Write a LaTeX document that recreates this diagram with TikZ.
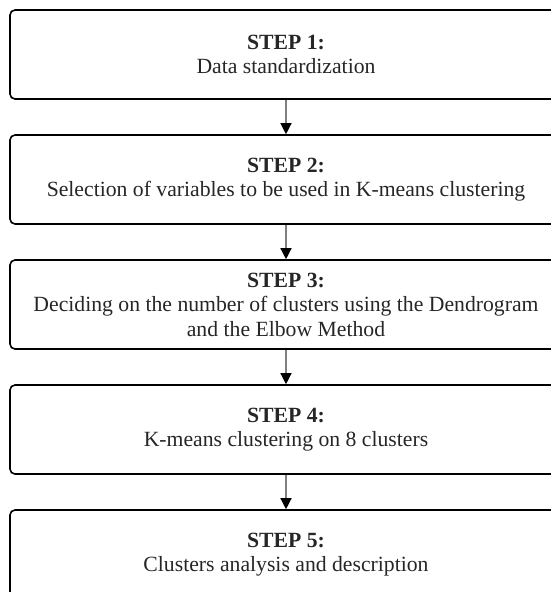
\documentclass[tikz,border=0pt]{standalone}
\usepackage{fontspec}
\setmainfont{Liberation Serif}
\usetikzlibrary{positioning,arrows.meta}

\tikzset{
  stepbox/.style={draw, line width=1.6pt, rounded corners=5pt,
    minimum width=552pt, minimum height=89pt, align=center,
    font=\fontsize{21.7}{24.5}\selectfont, text=black!85},
  flow/.style={draw=black!50, line width=1.3pt,
    -{Triangle[length=11pt,width=11pt,black]}}
}

\begin{document}
\begin{tikzpicture}[x=1pt,y=1pt]
    \useasboundingbox (0,0) rectangle (551,-592);

    % Steps
    \node [stepbox] (s1) at (286,-54.5) {\textbf{STEP 1:}\\Data standardization};
    \node [stepbox, below=34.4pt of s1] (s2) {\textbf{STEP 2:}\\Selection of variables to be used in K-means clustering};
    \node [stepbox, below=34.4pt of s2] (s3) {\textbf{STEP 3:}\\Deciding on the number of clusters using the Dendrogram\\and the Elbow Method};
    \node [stepbox, below=34.4pt of s3] (s4) {\textbf{STEP 4:}\\K-means clustering on 8 clusters};
    \node [stepbox, below=34.4pt of s4] (s5) {\textbf{STEP 5:}\\Clusters analysis and description};

    % Arrows between steps
    \foreach \a/\b in {s1/s2, s2/s3, s3/s4, s4/s5}
        \draw [flow] (\a) -- (\b);
\end{tikzpicture}
\end{document}
